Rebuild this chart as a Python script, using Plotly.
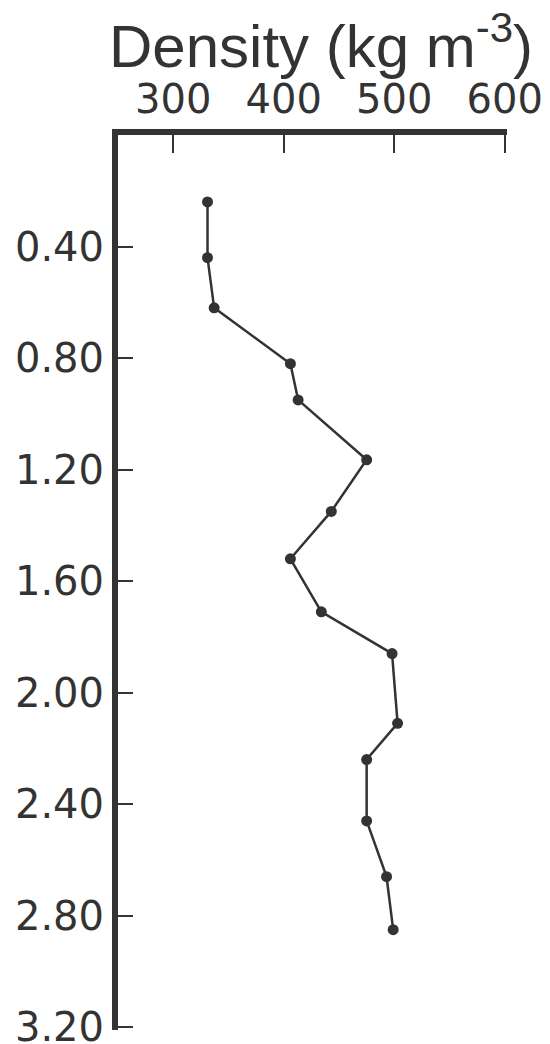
import plotly.graph_objects as go

density = [331, 331, 337, 406, 413, 475, 443, 406, 434, 498, 503, 475, 475, 493, 499]
depth = [0.24, 0.44, 0.62, 0.82, 0.95, 1.165, 1.35, 1.52, 1.71, 1.86, 2.11, 2.24, 2.46, 2.66, 2.85]

x_ticks = [300, 400, 500, 600]
y_ticks = [0.4, 0.8, 1.2, 1.6, 2.0, 2.4, 2.8, 3.2]
y_labels = ["0.40", "0.80", "1.20", "1.60", "2.00", "2.40", "2.80", "3.20"]

ink = "#333333"
tick_font = "DejaVu Sans"
title_font = "Liberation Sans"

fig = go.Figure()
fig.add_trace(go.Scatter(
    x=density, y=depth, mode="lines+markers",
    line=dict(color=ink, width=2.5),
    marker=dict(color=ink, size=11),
    showlegend=False, cliponaxis=False,
))

# page body has an 8px default margin; compensate so the plot lands where the reference has it
fig.update_layout(
    width=542, height=1036,
    margin=dict(l=110, r=43, t=127, b=14),
    paper_bgcolor="white", plot_bgcolor="white",
    font=dict(family=tick_font, color=ink),
    xaxis=dict(
        side="top", range=[250, 602], tickvals=x_ticks,
        ticks="inside", ticklen=18, tickwidth=2, tickcolor=ink,
        showline=True, linewidth=6, linecolor=ink,
        showgrid=False, zeroline=False, automargin=False,
        tickfont=dict(family=tick_font, size=40, color=ink),
        ticklabelstandoff=0, ticklabeloverflow="allow",
    ),
    yaxis=dict(
        range=[3.21, 0], tickvals=y_ticks, ticktext=y_labels,
        ticks="inside", ticklen=15, tickwidth=2, tickcolor=ink,
        showline=True, linewidth=6, linecolor=ink,
        showgrid=False, zeroline=False, automargin=False,
        tickfont=dict(family=tick_font, size=40, color=ink),
        ticklabelstandoff=0, ticklabeloverflow="allow",
    ),
    annotations=[dict(
        text="Density (kg m<sup>-3</sup>)", xref="paper", yref="paper",
        x=(321 - 118) / 389, y=1 + (134 - 41) / 896, xanchor="center", yanchor="middle",
        showarrow=False, font=dict(family=title_font, size=60, color=ink),
    )],
)

fig.write_html("out.html")
